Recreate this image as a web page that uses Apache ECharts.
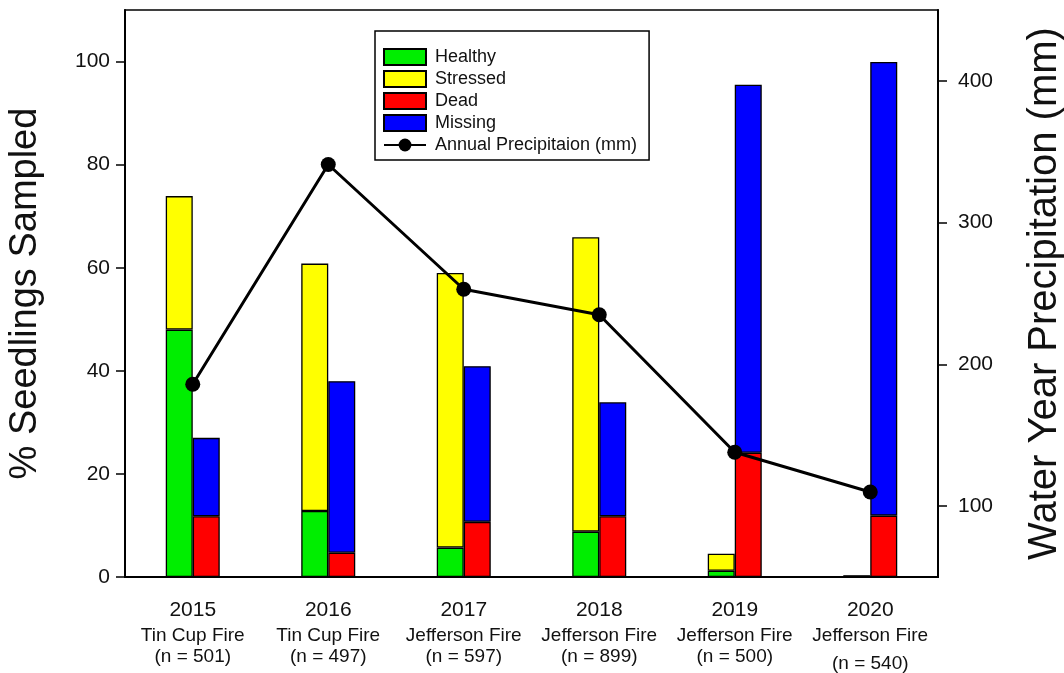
<!DOCTYPE html>
<html><head><meta charset="utf-8">
<script src="https://cdn.jsdelivr.net/npm/echarts@6/dist/echarts.min.js"></script>
<style>html,body{margin:0;padding:0;background:#fff}#c{width:1064px;height:673px}</style>
</head><body><div id="c"></div>
<script>
// ---- data ----
const years = ['2015', '2016', '2017', '2018', '2019', '2020'];
const fires = ['Tin Cup Fire', 'Tin Cup Fire', 'Jefferson Fire', 'Jefferson Fire', 'Jefferson Fire', 'Jefferson Fire'];
const sampleSizes = [501, 497, 597, 899, 500, 540];
const healthy = [48, 12.8, 5.7, 8.8, 1.2, 0.2];
const stressed = [25.9, 48, 53.3, 57.1, 3.3, 0];
const dead = [11.8, 4.7, 10.7, 11.8, 24.1, 11.9];
const missing = [15.2, 33.3, 30.2, 22.1, 71.4, 88];
const precipitation = [186, 341, 253, 235, 138, 110];
const leftTicks = [0, 20, 40, 60, 80, 100];
const rightTicks = [100, 200, 300, 400];

const FONT = 'Liberation Sans, Arial, sans-serif';
const chart = echarts.init(document.getElementById('c'));
const barBase = {
  type: 'bar', barWidth: 27, barGap: '0%',
  itemStyle: { borderColor: '#000', borderWidth: 1.3 }
};
function bar(name, stack, data, color) {
  return Object.assign({}, barBase, {
    name: name, stack: stack, data: data,
    itemStyle: Object.assign({}, barBase.itemStyle, { color: color })
  });
}
chart.setOption({
  animation: false,
  backgroundColor: '#fff',
  textStyle: { fontFamily: FONT },
  grid: { left: 125, right: 126, top: 10, bottom: 96, show: true, borderColor: '#000', borderWidth: 1.5, containLabel: false, outerBoundsMode: 'none' },
  legend: {
    orient: 'vertical', left: 375, top: 31,
    padding: [17, 12, 6, 8],
    itemWidth: 42, itemHeight: 16, itemGap: 4,
    backgroundColor: '#fff', borderColor: '#000', borderWidth: 1.5,
    textStyle: { fontSize: 18, color: '#111', fontFamily: FONT, padding: [0, 0, 0, 4] },
    data: [
      { name: 'Healthy', icon: 'rect' },
      { name: 'Stressed', icon: 'rect' },
      { name: 'Dead', icon: 'rect' },
      { name: 'Missing', icon: 'rect' },
      { name: 'Annual Precipitaion (mm)' }
    ]
  },
  xAxis: {
    type: 'category', data: years,
    axisLine: { lineStyle: { color: '#000', width: 2 } },
    axisTick: { alignWithLabel: true, length: 9, lineStyle: { color: '#000', width: 1.5 } },
    axisLabel: {
      interval: 0, margin: 18, color: '#111',
      formatter: (v, i) => `{y|${v}}\n{f|${fires[i]}}\n{${i === years.length - 1 ? 'g' : 'f'}|(n = ${sampleSizes[i]})}`,
      rich: {
        y: { fontSize: 21, lineHeight: 30, fontFamily: FONT, color: '#111' },
        f: { fontSize: 19, lineHeight: 21, fontFamily: FONT, color: '#111' },
        g: { fontSize: 19, lineHeight: 27, verticalAlign: 'bottom', fontFamily: FONT, color: '#111' }
      }
    }
  },
  yAxis: [
    {
      type: 'value', position: 'left', min: 0, max: 110,
      name: '% Seedlings Sampled', nameLocation: 'middle', nameGap: 80,
      nameTextStyle: { fontSize: 38, color: '#111', fontFamily: FONT },
      axisLine: { show: true, lineStyle: { color: '#000', width: 2 } },
      axisTick: { show: true, length: 9, customValues: leftTicks, lineStyle: { color: '#000', width: 1.5 } },
      axisLabel: { customValues: leftTicks, fontSize: 21, margin: 15, color: '#111' },
      splitLine: { show: false }
    },
    {
      type: 'value', position: 'right', min: 50, max: 450,
      name: 'Water Year Precipitation (mm)', nameLocation: 'middle', nameGap: 87,
      nameTextStyle: { fontSize: 40, color: '#111', fontFamily: FONT },
      axisLine: { show: true, lineStyle: { color: '#000', width: 2 } },
      axisTick: { show: true, length: 9, customValues: rightTicks, lineStyle: { color: '#000', width: 1.5 } },
      axisLabel: { customValues: rightTicks, fontSize: 21, margin: 20, color: '#111' },
      splitLine: { show: false }
    }
  ],
  series: [
    bar('Healthy', 'hs', healthy, '#00ee00'),
    bar('Stressed', 'hs', stressed, '#ffff00'),
    bar('Dead', 'dm', dead, '#ff0000'),
    bar('Missing', 'dm', missing, '#0000ff'),
    {
      name: 'Annual Precipitaion (mm)', type: 'line', yAxisIndex: 1, data: precipitation,
      symbol: 'circle', symbolSize: 15, z: 10,
      lineStyle: { color: '#000', width: 3 }, itemStyle: { color: '#000' }
    }
  ]
});
</script>
</body></html>
